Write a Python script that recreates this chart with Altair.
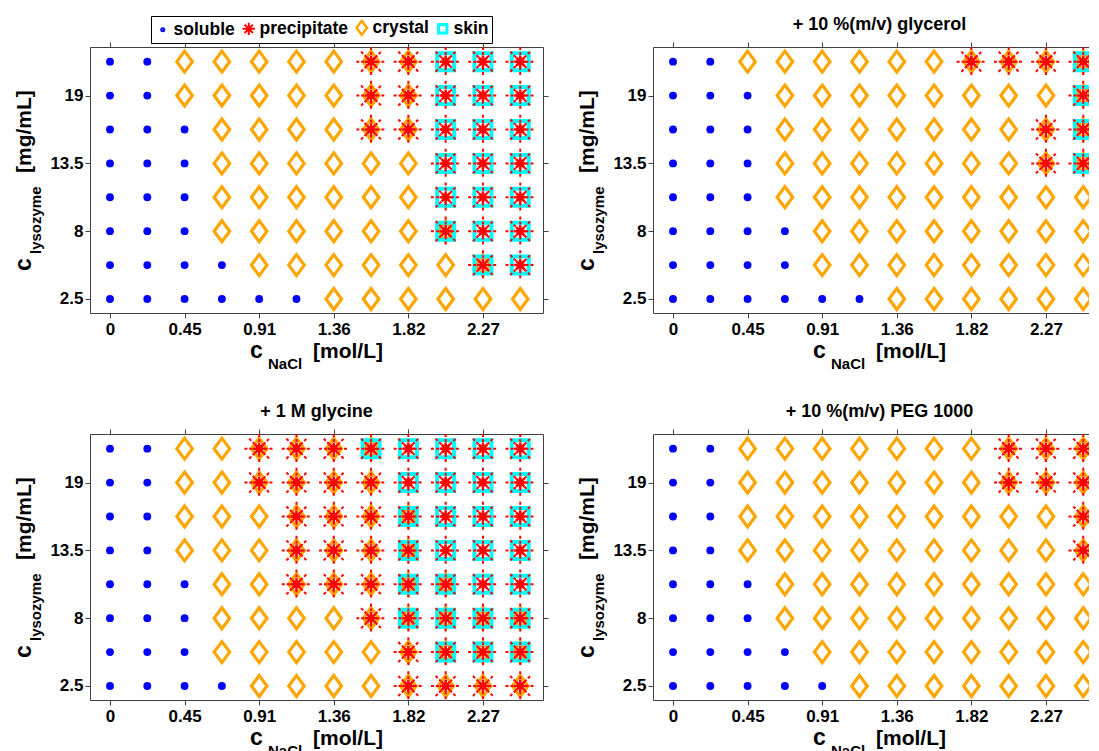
import altair as alt
import pandas as pd

FONT = "Liberation Sans"

# NaCl concentrations [mol/L] (grid columns) and lysozyme concentrations [mg/mL] (grid rows, top to bottom)
NACL = [0, 0.2273, 0.4545, 0.6818, 0.9091, 1.1364, 1.3636, 1.5909, 1.8182, 2.0455, 2.2727, 2.5]
LYSO = [21.75, 19, 16.25, 13.5, 10.75, 8, 5.25, 2.5]
X_TICKS = [0, 0.4545, 0.9091, 1.3636, 1.8182, 2.2727]
Y_TICKS = [2.5, 8, 13.5, 19]

# observed states per cell: s = soluble, c = crystal, p = precipitate, k = skin
NO_ADDITIVE = [
    "s s c c c c c cp cp pk pk pk",
    "s s c c c c c cp cp pk pk pk",
    "s s s c c c c cp cp pk pk pk",
    "s s s c c c c c c pk pk pk",
    "s s s c c c c c c pk pk pk",
    "s s s c c c c c c cpk pk pk",
    "s s s s c c c c c c cpk pk",
    "s s s s s s c c c c c c",
]
GLYCEROL = [
    "s s c c c c c c cp cp cp cpk",
    "s s s c c c c c c c c cpk",
    "s s s c c c c c c c cp cpk",
    "s s s c c c c c c c cp cpk",
    "s s s c c c c c c c c c",
    "s s s s c c c c c c c c",
    "s s s s c c c c c c c c",
    "s s s s s s c c c c c c",
]
GLYCINE = [
    "s s c c cp cp cp cpk pk pk pk pk",
    "s s c c cp cp cp cp pk pk pk pk",
    "s s c c c cp cp cp cpk pk pk pk",
    "s s c c c cp cp cp cpk pk pk pk",
    "s s s c c cp cp cp cpk cpk pk pk",
    "s s s c c c c cp cpk cpk cpk cpk",
    "s s s c c c c c cp cpk cpk cpk",
    "s s s s c c c c cp cp cp cp",
]
PEG = [
    "s s c c c c c c c cp cp cp",
    "s s c c c c c c c cp cp cp",
    "s s c c c c c c c c c cp",
    "s s c c c c c c c c c cp",
    "s s s c c c c c c c c c",
    "s s s c c c c c c c c c",
    "s s s s c c c c c c c c",
    "s s s s s c c c c c c c",
]
TITLES = [None, "+ 10 %(m/v) glycerol", "+ 1 M glycine", "+ 10 %(m/v) PEG 1000"]
LEGEND_ITEMS = ["soluble", "precipitate", "crystal", "skin"]

W, H = 453, 266          # full panel plot area
W_CUT = 436              # right-hand panels run off the right edge of the figure
PX_PER_UNIT = 164.1
X0 = -0.1219
DIAMOND = "M0,-1L0.74,0L0,1L-0.74,0Z"
STAR = "M-1,0L1,0M0,-1L0,1M-0.68,-0.68L0.68,0.68M-0.68,0.68L0.68,-0.68"

ys = alt.Scale(domain=[1.364, 22.94], nice=False, zero=False)

AX = dict(grid=False, domain=True, domainColor="#404040", domainWidth=1,
          ticks=True, tickSize=5, tickColor="#404040",
          tickWidth=1, labelFont=FONT, labelFontSize=17, labelFontWeight="bold",
          labelColor="black", title=None)
x_bottom = alt.Axis(orient="bottom", values=X_TICKS, labelFlush=False, labelPadding=3,
                    labelExpr="datum.value == 0 ? '0' : format(datum.value, '.2f')", **AX)
x_top = alt.Axis(orient="top", values=X_TICKS, labels=False, **AX)
y_left = alt.Axis(orient="left", values=Y_TICKS, labelPadding=2, labelExpr="'' + datum.value", **AX)
y_right = alt.Axis(orient="right", values=Y_TICKS, labels=False, **AX)


def grid(states):
    rows = []
    for lyso, line in zip(LYSO, states):
        for nacl, tok in zip(NACL, line.split()):
            rows.append(dict(nacl=nacl, lyso=lyso, soluble="s" in tok, crystal="c" in tok,
                             precipitate="p" in tok, skin="k" in tok))
    return pd.DataFrame(rows)


def label(text, x, y, size, angle=0, align="left"):
    return alt.Chart(pd.DataFrame({"a": [0]})).mark_text(
        text=text, font=FONT, fontSize=size, fontWeight="bold", color="black",
        align=align, baseline="alphabetic", angle=angle
    ).encode(x=alt.value(x), y=alt.value(y))


def panel(states, title=None, legend=False, cut=False):
    width = W_CUT if cut else W
    xs = alt.Scale(domain=[X0, X0 + width / PX_PER_UNIT], nice=False, zero=False)
    base = alt.Chart(grid(states))

    def enc(xa=None, ya=None):
        return dict(x=alt.X("nacl:Q", scale=xs, axis=xa), y=alt.Y("lyso:Q", scale=ys, axis=ya))

    crystal = base.transform_filter("datum.crystal").mark_point(
        shape=DIAMOND, size=441, filled=False, color="#FFA500", strokeWidth=3.2, opacity=1, clip=cut
    ).encode(**enc(x_bottom, y_left))
    skin = base.transform_filter("datum.skin").mark_point(
        shape="square", size=289, filled=False, color="#00FFFF", strokeWidth=4, opacity=1, clip=cut
    ).encode(**enc())
    prec_big = base.transform_filter("datum.precipitate").mark_point(
        shape=STAR, size=870, filled=False, color="#FF0000", strokeWidth=2,
        strokeDash=[3, 2], opacity=1, clip=cut
    ).encode(**enc())
    prec_small = base.transform_filter("datum.precipitate").mark_point(
        shape=STAR, size=150, filled=False, color="#FF0000", strokeWidth=2.5, opacity=1, clip=cut
    ).encode(**enc())
    soluble = base.transform_filter("datum.soluble").mark_point(
        shape="circle", size=62, filled=True, color="#0000FF", opacity=1, clip=cut
    ).encode(**enc(x_top, None if cut else y_right))

    layers = [crystal, skin, prec_big, prec_small, soluble,
              label("c", 160, H + 45, 23),
              label("NaCl", 178, H + 56, 15),
              label("[mol/L]", 223, H + 45, 21),
              label("c", -59, 224, 23, 270),
              label("lysozyme", -49, 207, 15, 270),
              label("[mg/mL]", -59, 126, 21, 270)]
    if title:
        layers.append(label(title, W / 2, -17, 18, align="center"))

    if legend:
        leg_df = pd.DataFrame({"state": LEGEND_ITEMS, "nacl": [0] * 4, "lyso": [2.5] * 4})
        lg = alt.Legend(title=None, orient="none", legendX=61, legendY=-31, direction="horizontal",
                        strokeColor="black", fillColor="white", padding=3,
                        labelFont=FONT, labelFontSize=17.5, labelFontWeight="bold",
                        labelColor="black", labelOffset=2, columnPadding=3)
        leg = alt.Chart(leg_df).mark_point(filled=False, opacity=0).encode(
            x=alt.X("nacl:Q", scale=xs, axis=None),
            y=alt.Y("lyso:Q", scale=ys, axis=None),
            shape=alt.Shape("state:N", scale=alt.Scale(domain=LEGEND_ITEMS,
                            range=["circle", STAR, DIAMOND, "square"]), legend=lg),
            stroke=alt.Stroke("state:N", scale=alt.Scale(domain=LEGEND_ITEMS,
                              range=["#0000FF", "#FF0000", "#FFA500", "#00FFFF"]), legend=lg),
            fill=alt.Fill("state:N", scale=alt.Scale(domain=LEGEND_ITEMS,
                          range=["#0000FF", "transparent", "transparent", "transparent"]), legend=lg),
            size=alt.Size("state:N", scale=alt.Scale(type="ordinal", domain=LEGEND_ITEMS,
                          range=[4, 150, 200, 70]), legend=lg),
            strokeWidth=alt.StrokeWidth("state:N", scale=alt.Scale(type="ordinal", domain=LEGEND_ITEMS,
                                        range=[3, 2, 2.5, 3]), legend=lg),
        )
        layers.append(leg)

    return alt.layer(*layers).resolve_axis(x="independent", y="independent").properties(
        width=width, height=H)


panels = [panel(NO_ADDITIVE, TITLES[0], legend=True), panel(GLYCEROL, TITLES[1], cut=True),
          panel(GLYCINE, TITLES[2]), panel(PEG, TITLES[3], cut=True)]

chart = alt.concat(*panels, columns=2, spacing={"row": 121, "column": 110}, bounds="flush",
                   padding={"left": 5, "top": 7, "right": 0, "bottom": 0}
                   ).configure_view(stroke=None)

chart.save("out.html", embed_options={"renderer": "svg", "actions": False})
